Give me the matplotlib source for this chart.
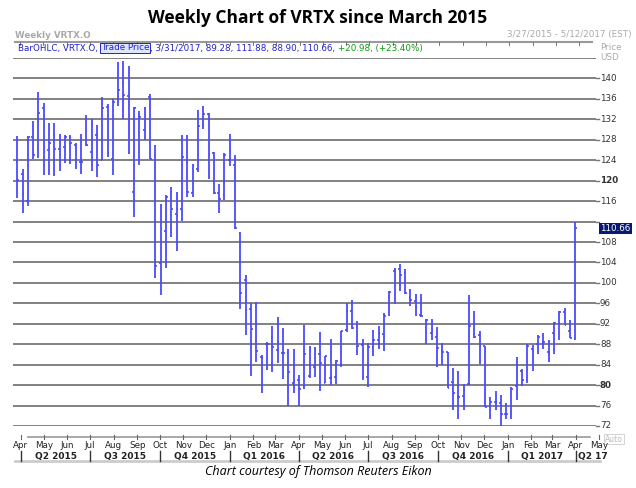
import matplotlib
matplotlib.use("Agg")
import matplotlib.pyplot as plt
import matplotlib.dates as mdates
import pandas as pd
import numpy as np

highs = [128.8,122.2,128.8,131.7,137.4,135.1,131.3,131.3,129.2,129.0,129.0,127.4,129.2,132.9,132.0,130.8,136.3,135.0,136.0,143.2,143.4,142.5,134.5,133.7,134.5,137.0,127.0,115.5,
         117.1,118.7,117.8,129.0,129.0,123.2,133.8,134.7,133.2,125.6,119.4,125.4,129.1,125.0,110.0,101.5,96.1,96.3,85.9,88.5,91.6,93.4,91.1,87.1,87.1,82.0,
         91.7,87.6,87.4,90.4,85.7,89.1,85.0,90.6,96.0,96.6,92.6,89.1,88.3,90.7,91.5,94.2,98.5,102.9,103.6,102.7,98.9,97.9,97.9,93.0,93.0,91.3,88.3,
         86.5,83.3,82.8,80.3,97.7,94.5,90.5,87.7,77.6,78.8,78.0,76.5,79.6,85.5,83.1,88.1,87.9,89.9,90.1,88.9,92.3,94.5,95.1,92.8,111.88]
lows = [116.6,113.6,115.1,124.3,124.4,121.2,121.1,120.9,121.8,123.5,123.3,122.3,121.4,126.8,121.8,120.7,124.0,124.6,121.2,134.7,132.1,125.3,112.9,123.0,127.9,124.2,101.0,97.7,
        103.0,109.0,106.2,112.1,116.9,116.8,121.7,130.2,120.4,117.3,113.7,116.3,122.8,110.6,94.8,89.8,81.8,84.6,78.4,83.0,82.5,84.3,81.2,76.0,78.5,76.0,
        79.2,81.3,81.6,78.9,80.5,80.0,80.3,83.5,90.4,91.0,85.9,81.0,79.7,85.7,87.0,86.7,93.6,95.9,98.5,97.9,95.4,93.6,93.3,88.1,88.9,83.6,83.9,
        79.4,75.1,73.3,75.1,80.0,89.3,84.2,75.7,73.4,75.2,71.5,73.3,73.4,77.1,79.8,80.4,82.7,86.0,87.1,84.5,86.0,88.9,91.8,89.3,88.90]
opens = [123.6,121.4,116.0,128.5,126.2,134.2,126.0,129.0,126.1,126.5,128.5,127.0,123.6,127.2,125.7,129.0,124.0,134.5,124.2,134.8,139.1,136.5,117.7,132.7,130.0,136.3,125.0,103.8,
         110.1,110.6,113.5,114.5,123.6,117.5,122.3,130.8,133.0,125.4,117.5,117.1,124.0,123.0,109.8,100.5,94.8,91.9,85.5,88.1,89.5,86.8,86.3,86.2,80.4,81.0,
         79.7,81.8,83.5,86.0,80.5,81.3,81.6,84.1,90.7,94.5,91.4,87.8,81.5,87.5,88.9,90.0,97.2,102.4,102.7,101.9,97.2,96.4,93.8,92.7,90.2,89.4,86.9,
         86.4,80.7,77.6,77.8,80.3,92.0,89.9,87.7,75.7,76.7,76.5,74.4,74.6,79.8,82.7,81.0,87.0,88.1,88.5,86.4,90.1,92.1,94.3,90.6,89.28]
closes = [120.1,117.3,128.6,125.0,133.2,125.6,127.3,126.1,125.0,128.5,127.4,124.3,123.6,127.0,131.1,123.0,134.2,125.5,135.3,137.8,136.8,125.5,134.2,132.5,134.2,124.2,103.4,115.3,
          116.8,114.5,114.5,124.7,117.8,123.0,130.6,133.1,125.3,117.5,116.5,125.0,126.0,110.8,98.0,94.7,90.9,86.7,85.4,88.0,87.5,88.5,86.2,82.6,80.9,79.2,
          86.0,86.8,86.8,84.3,85.7,81.6,84.8,90.6,94.5,91.2,87.6,81.8,87.5,88.9,90.2,93.6,98.3,102.5,101.6,98.0,96.7,95.2,93.6,92.7,90.8,87.2,86.4,
          79.4,78.5,77.6,79.0,91.5,89.4,87.7,75.7,76.7,76.7,74.4,74.4,79.3,83.4,81.0,87.6,86.4,89.5,88.5,86.1,92.1,94.3,91.8,89.28,110.66]
dates = pd.date_range("2015-03-27", periods=len(highs), freq="7D")
y_ticks = list(range(72, 141, 4))
quarters = ["Q2 2015","Q3 2015","Q4 2015","Q1 2016","Q2 2016","Q3 2016","Q4 2016","Q1 2017"]

W, H = 636, 488
fig = plt.figure(figsize=(W/100, H/100), dpi=100)
def fx(p): return p / W
def fy(p): return 1 - p / H

L, R, T, B = 13, 596, 58, 426
ax = fig.add_axes([fx(L), fy(B), fx(R) - fx(L), fy(T) - fy(B)])
x0 = mdates.date2num(pd.Timestamp("2015-04-01"))
x1 = mdates.date2num(pd.Timestamp("2017-04-01"))
ppd = (576 - 21) / (x1 - x0)
ax.set_xlim(x0 - (21 - L) / ppd, x1 + (R - 576) / ppd)
ax.set_ylim(72, 144)
for s in ax.spines.values():
    s.set_visible(False)
ax.set_xticks([]); ax.set_yticks([])
for v in y_ticks + [144]:
    ax.axhline(v, color="#777777", lw=1.3, zorder=1)

blue = "#4a4aff"
xd = mdates.date2num(dates)
ax.vlines(xd, lows, highs, color=blue, lw=1.3, zorder=3)
ax.hlines(opens, xd - 2.2, xd, color=blue, lw=1.2, zorder=3)
ax.hlines(closes, xd, xd + 2.2, color=blue, lw=1.2, zorder=3)

# right labels
def py_of(v): return B - (v - 72) * (B - T) / 72
for v in y_ticks:
    if v == 112:
        continue  # hidden behind the last-price marker in the reference
    bold = v in (80, 120)
    fig.text(fx(600), fy(py_of(v)), str(v), fontsize=6.3, ha="left", va="center",
             color="#333333", fontweight="bold" if bold else "normal")
for v in y_ticks:
    fig.add_artist(plt.Line2D([fx(R), fx(R + 3)], [fy(py_of(v))] * 2, color="#777777", lw=1))
fig.text(fx(600), fy(py_of(110.66)), "110.66", fontsize=6.3, ha="left", va="center", color="white",
         bbox=dict(boxstyle="square,pad=0.15", fc="#0a1a70", ec="none"))
fig.text(fx(600), fy(47), "Price", fontsize=6.3, color="#aaaaaa", va="center")
fig.text(fx(600), fy(58), "USD", fontsize=6.3, color="#aaaaaa", va="center")

# header
fig.text(0.5, fy(18), "Weekly Chart of VRTX since March 2015", ha="center", va="center",
         fontsize=12.5, fontweight="bold", family="Open Sans")
fig.text(fx(15), fy(35), "Weekly VRTX.O", fontsize=6.3, color="#aaaaaa", va="center", fontweight="bold")
fig.text(fx(632), fy(35), "3/27/2015 - 5/12/2017 (EST)", fontsize=6.3, color="#aaaaaa", va="center", ha="right")
fig.add_artist(plt.Line2D([fx(15), fx(592)], [fy(42)] * 2, color="#999999", lw=1.5))
for p in np.arange(20, 590, 23.3):
    fig.add_artist(plt.Line2D([fx(p)] * 2, [fy(42), fy(45)], color="#777777", lw=0.7))
tb = fig.text(fx(18), fy(48), "BarOHLC, VRTX.O, ", fontsize=6.3, color="#2222cc", va="center")
fig.canvas.draw()
r = fig.canvas.get_renderer()
def after(t):
    bb = t.get_window_extent(r)
    return bb.x1 / W
t2 = fig.text(after(tb), fy(48), "Trade Price", fontsize=6.3, color="#2222cc", va="center",
              bbox=dict(boxstyle="square,pad=0.1", fc="#dde6ff", ec="#2222cc", lw=0.7))
t3 = fig.text(after(t2) + 0.002, fy(48), ", 3/31/2017, 89.28, 111.88, 88.90, 110.66, ", fontsize=6.3, color="#2222cc", va="center")
fig.text(after(t3), fy(48), "+20.98, (+23.40%)", fontsize=6.3, color="#119911", va="center")

# bottom axis strip
fig.add_artist(plt.Line2D([fx(28), fx(590)], [fy(437)] * 2, color="#999999", lw=1.2))
fig.add_artist(plt.Line2D([fx(15), fx(600)], [fy(461)] * 2, color="#cccccc", lw=2))
fig.text(fx(614), fy(439), "Auto", fontsize=5.5, color="#bbbbbb", va="center", ha="center",
         bbox=dict(boxstyle="square,pad=0.1", fc="white", ec="#cccccc", lw=0.6))
def px_of(d): return L + (mdates.date2num(pd.Timestamp(d)) - ax.get_xlim()[0]) * ppd
months = pd.date_range("2015-04-01", "2017-05-01", freq="MS")
for m in months:
    p = px_of(m)
    fig.add_artist(plt.Line2D([fx(p)] * 2, [fy(435), fy(439)], color="#666666", lw=0.8))
    fig.text(fx(p), fy(445), m.strftime("%b"), fontsize=6.3, ha="center", va="center", color="#222222")
qstarts = pd.date_range("2015-04-01", "2017-04-01", freq="QS")
for q in qstarts:
    p = px_of(q)
    fig.add_artist(plt.Line2D([fx(p)] * 2, [fy(451), fy(461)], color="#333333", lw=1))
for i, name in enumerate(quarters):
    p = (px_of(qstarts[i]) + px_of(qstarts[i + 1])) / 2
    fig.text(fx(p), fy(456), name, fontsize=6.5, ha="center", va="center", fontweight="bold", color="#222222")
fig.text(fx(px_of(qstarts[-1]) + 2), fy(456), "Q2 17", fontsize=6.5, ha="left", va="center", fontweight="bold", color="#222222")

fig.text(0.5, fy(472), "Chart courtesy of Thomson Reuters Eikon", ha="center", va="center",
         fontsize=9, style="italic", family="Open Sans")
fig.savefig("out.png", dpi=100)
